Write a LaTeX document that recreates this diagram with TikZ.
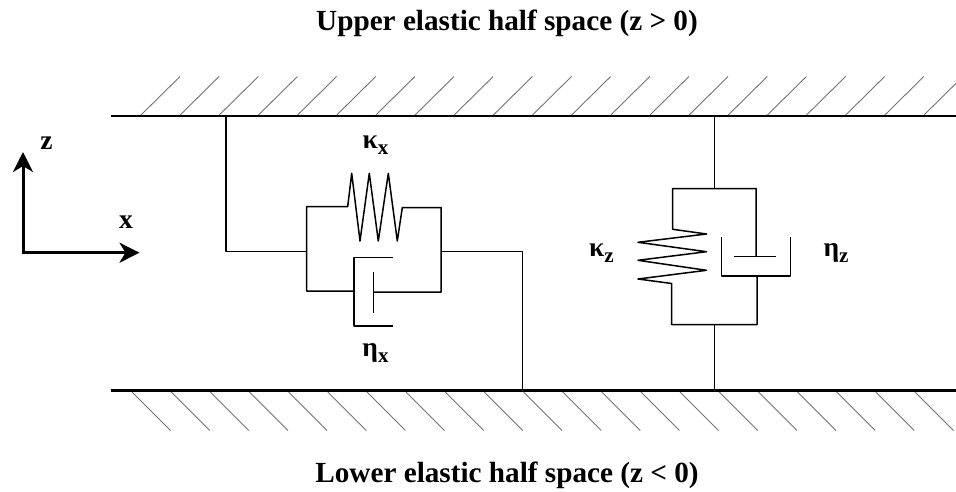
\documentclass[tikz,border=0pt]{standalone}
\usepackage{fontspec}
\setmainfont{Liberation Serif}
\usetikzlibrary{arrows.meta}
\newcommand{\subsym}[1]{\raisebox{-0.2em}{\fontsize{21}{22}\selectfont #1}}
\tikzset{
  plate/.style={line width=2.3pt,black},
  hatch/.style={line width=0.9pt,black!55},
  wire/.style={line width=1.5pt,black,line join=round},
  axis/.style={line width=3pt,black,-{Stealth[length=20pt,width=20pt,inset=6pt]}},
  title/.style={font=\fontsize{29.2}{32}\selectfont\bfseries,inner sep=0pt},
  sym/.style={font=\fontsize{27.5}{30}\selectfont\bfseries,inner sep=0pt},
}
\begin{document}
\begin{tikzpicture}[x=1pt,y=-1pt]
\useasboundingbox (0,0) rectangle (956,492);
\clip (0,0) rectangle (956,492);
% plates
\coordinate (topL) at (111,116); \coordinate (topR) at (956,116);
\coordinate (botL) at (111,390.5); \coordinate (botR) at (956,390.5);
\foreach \k in {0,...,20} {
  \draw[hatch] ({141+39.15*\k},115) -- ++(39,-38.5);
  \draw[hatch] ({132+39.15*\k},392) -- ++(38.5,38.5);
}
\draw[plate] (topL) -- (topR);
\draw[plate] (botL) -- (botR);
% titles
\node[title] (upper) at (507,23) {Upper elastic half space (z > 0)};
\node[title] (lower) at (507,475.5) {Lower elastic half space (z < 0)};
% axes
\coordinate (origin) at (23,252.7);
\coordinate (ztip) at (23,152);
\coordinate (xtip) at (139.5,252.7);
\draw[axis] (origin) -- (ztip);
\draw[axis] (origin) -- (xtip);
\fill (21.5,251.2) rectangle (24.5,254.2);
\node[sym] (zlab) at (46.5,143) {z};
\node[sym] (xlab) at (126,222) {x};
% left (x) element
\coordinate (a0) at (226,116);
\coordinate (a1) at (226,251.5);
\coordinate (a2) at (306.7,251.5);
\coordinate (fl1) at (306.7,206.7);
\coordinate (fl2) at (306.7,291);
\coordinate (sp0) at (347.7,206.7);
\coordinate (sp1) at (402.3,207.5);
\coordinate (fr1) at (441,207.5);
\coordinate (fr2) at (441,292);
\coordinate (b0) at (441,251.5);
\coordinate (b1) at (522.7,251.5);
\coordinate (b2) at (522.7,390);
\coordinate (cupA) at (392.7,257.3);
\coordinate (cupB) at (354,257.3);
\coordinate (cupC) at (354,326);
\coordinate (cupD) at (392.7,326);
\coordinate (cupM) at (354,291);
\coordinate (pa) at (373.3,272);
\coordinate (pb) at (373.3,313.3);
\coordinate (pm) at (373.3,292);
\draw[wire] (a0) -- (a1) -- (a2);
\draw[wire] (cupM) -- (fl2) -- (fl1) -- (sp0)
  -- (351.7,173.3) -- (360,241) -- (369.3,173.3) -- (378.3,241) -- (388.3,173.3) -- (397.3,241)
  -- (sp1) -- (fr1) -- (fr2) -- (pm);
\draw[wire] (b0) -- (b1) -- (b2);
\draw[wire] (cupA) -- (cupB) -- (cupC) -- (cupD);
\draw[wire] (pa) -- (pb);
\node[sym] (kx) at (375.5,145) {κ\subsym{x}};
\node[sym] (ex) at (375.5,353) {η\subsym{x}};
% right (z) element
\coordinate (c0) at (714.7,116);
\coordinate (c1) at (714.7,188.5);
\coordinate (tl) at (672.7,188.5);
\coordinate (tr) at (756,188.5);
\coordinate (s0) at (672.7,229.3);
\coordinate (s1) at (671.7,283.5);
\coordinate (bl) at (671.7,324.7);
\coordinate (br) at (757,324.7);
\coordinate (cm) at (757,276);
\coordinate (d0) at (714.7,324.7);
\coordinate (d1) at (714.7,390);
\coordinate (ca) at (721.7,237.3);
\coordinate (cb) at (721.7,276);
\coordinate (cc) at (790.7,276);
\coordinate (cd) at (790.7,237.3);
\coordinate (qa) at (734.3,256.7);
\coordinate (qb) at (775.7,256.7);
\coordinate (qm) at (756,256.7);
\draw[wire] (c0) -- (c1);
\draw[wire] (qm) -- (tr) -- (tl) -- (s0)
  -- (706.5,234) -- (638,242.3) -- (706.5,251.7) -- (638,260.3) -- (706.5,270.3) -- (638,279)
  -- (s1) -- (bl) -- (br) -- (cm);
\draw[wire] (ca) -- (cb) -- (cc) -- (cd);
\draw[wire] (qa) -- (qb);
\draw[wire] (d0) -- (d1);
\node[sym] (kz) at (601.5,253) {κ\subsym{z}};
\node[sym] (ez) at (836,253) {η\subsym{z}};
\end{tikzpicture}
\end{document}
